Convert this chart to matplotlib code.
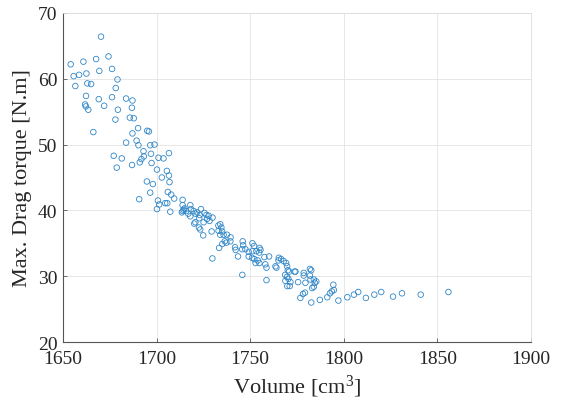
import matplotlib
matplotlib.use("Agg")
import matplotlib.pyplot as plt

# volume [cm^3] and max drag torque [N.m]
volume = [
    1670.3, 1654.1, 1660.9, 1667.7, 1674.3, 1655.7, 1658.6, 1662.5, 1669.4, 1676.2,
    1656.6, 1663.0, 1665.0, 1679.1, 1678.2, 1662.3, 1669.1, 1676.2, 1683.7, 1687.1,
    1661.8, 1662.2, 1663.5, 1672.0, 1679.3, 1686.8, 1685.7, 1687.8, 1678.0, 1690.1,
    1666.2, 1687.1, 1695.0, 1695.9, 1683.7, 1689.3, 1690.3, 1696.6, 1698.9, 1693.0,
    1697.0, 1706.6, 1677.1, 1681.4, 1693.2, 1691.9, 1691.0, 1701.0, 1703.7, 1678.7,
    1686.9, 1697.3, 1700.2, 1705.5, 1706.6, 1702.8, 1706.9, 1694.8, 1698.0, 1696.6,
    1706.0, 1707.8, 1709.4, 1690.7, 1700.7, 1701.4, 1704.6, 1705.7, 1700.2, 1707.3,
    1713.9, 1713.9, 1713.9, 1714.4, 1714.9, 1713.5, 1715.8, 1718.0, 1718.4, 1716.9,
    1720.8, 1719.8, 1723.7, 1723.0, 1722.8, 1718.0, 1720.1, 1722.6, 1723.3, 1725.6,
    1726.6, 1726.9, 1727.8, 1728.3, 1729.9, 1729.4, 1724.9, 1733.0, 1734.6, 1733.1,
    1735.0, 1734.0, 1735.8, 1737.6, 1739.5, 1739.4, 1736.4, 1735.1, 1737.3, 1733.4,
    1729.8, 1741.9, 1742.2, 1743.5, 1746.0, 1746.2, 1745.7, 1747.4, 1751.2, 1752.1,
    1749.2, 1751.2, 1753.3, 1754.8, 1755.5, 1749.2, 1751.0, 1752.2, 1754.0, 1752.9,
    1754.9, 1757.6, 1760.1, 1758.1, 1758.7, 1764.0, 1745.8, 1758.7, 1721.6, 1725.1,
    1720.7, 1734.0, 1755.0, 1763.5,
    1765.3, 1766.5, 1765.1, 1767.9, 1769.2, 1769.7, 1770.1, 1770.8, 1768.7, 1769.7,
    1770.4, 1768.8, 1771.5, 1771.1, 1773.7, 1775.6, 1778.6, 1778.6, 1779.5, 1781.9,
    1782.6, 1781.9, 1782.2, 1784.0, 1784.5, 1784.0, 1785.3, 1776.8, 1778.2, 1779.3,
    1782.6, 1787.2, 1791.2, 1792.6, 1793.6, 1794.7, 1794.4, 1797.1, 1801.9, 1805.4,
    1807.7, 1811.8, 1816.3, 1820.0, 1826.3, 1831.1, 1841.1, 1855.9, 1774.2, 1769.8,
    1783.1,
]
torque = [
    66.4, 62.2, 62.6, 63.0, 63.4, 60.4, 60.6, 60.8, 61.2, 61.5,
    58.9, 59.3, 59.2, 59.9, 58.6, 57.4, 56.9, 57.2, 57.0, 56.7,
    56.1, 55.8, 55.3, 55.9, 55.3, 55.6, 54.1, 54.0, 53.8, 52.5,
    51.9, 51.7, 52.1, 52.0, 50.3, 50.6, 49.9, 49.9, 50.0, 49.0,
    48.6, 48.7, 48.3, 47.9, 48.2, 47.8, 47.3, 48.0, 47.9, 46.5,
    46.9, 47.2, 46.2, 46.0, 45.3, 45.0, 44.3, 44.4, 44.0, 42.7,
    42.8, 42.4, 41.8, 41.7, 41.5, 40.9, 41.1, 41.1, 40.2, 39.8,
    41.6, 40.8, 39.9, 40.1, 40.3, 39.7, 39.9, 40.8, 40.2, 39.5,
    39.5, 39.9, 40.2, 39.3, 38.8, 39.1, 38.0, 37.4, 37.1, 39.6,
    39.3, 38.7, 39.2, 38.4, 38.9, 36.8, 36.2, 37.7, 37.4, 36.9,
    36.8, 36.3, 36.3, 36.3, 35.9, 35.3, 35.3, 34.9, 35.1, 34.3,
    32.7, 34.4, 34.0, 33.0, 35.3, 34.7, 34.1, 34.1, 35.0, 34.6,
    33.7, 33.8, 33.8, 33.6, 34.0, 33.0, 32.8, 32.6, 32.4, 32.0,
    32.0, 32.9, 33.0, 31.8, 31.3, 31.3, 30.2, 29.4, 39.7, 38.2,
    38.2, 37.9, 34.3, 31.5,
    32.8, 32.6, 32.4, 32.3, 32.0, 31.5, 30.9, 30.7, 30.2, 29.9,
    29.6, 29.3, 29.1, 28.5, 30.7, 29.1, 30.5, 30.1, 29.0, 31.1,
    30.9, 30.1, 29.5, 29.5, 29.0, 28.4, 29.2, 26.7, 27.3, 27.5,
    26.0, 26.4, 26.8, 27.4, 27.7, 27.9, 28.7, 26.3, 26.8, 27.2,
    27.6, 26.7, 27.2, 27.6, 26.9, 27.4, 27.2, 27.6, 30.7, 28.5,
    28.2,
]

x_ticks = [1650, 1700, 1750, 1800, 1850, 1900]
y_ticks = [20, 30, 40, 50, 60, 70]

plt.rcParams['font.family'] = ['Liberation Serif', 'DejaVu Serif']
plt.rcParams['mathtext.default'] = 'regular'

fig = plt.figure(figsize=(5.61, 4.10), dpi=100)
ax = fig.add_axes([0.1123, 0.1634, 0.8342, 0.8025])

ax.scatter(volume, torque, s=16, facecolors='none', edgecolors='#2F86C8',
           linewidths=0.6, zorder=3)

ax.set_xlim(1650, 1900)
ax.set_ylim(20, 70)
ax.set_xticks(x_ticks)
ax.set_yticks(y_ticks)
ax.grid(True, color='#E3E3E3', linewidth=0.6)
ax.set_axisbelow(True)

for side in ['top', 'right']:
    ax.spines[side].set_color('#DDDDDD')
    ax.spines[side].set_linewidth(0.6)
for side in ['left', 'bottom']:
    ax.spines[side].set_color('#555555')
    ax.spines[side].set_linewidth(0.8)

ax.tick_params(direction='in', length=3, width=0.6, color='#555555',
               labelsize=14, labelcolor='#262626', top=False, right=False)
ax.tick_params(axis='x', pad=6)
ax.tick_params(axis='y', pad=4)

ax.set_xlabel('Volume [cm$^3$]', fontsize=16, color='#262626', labelpad=4)
ax.set_ylabel('Max. Drag torque [N.m]', fontsize=16, color='#262626', labelpad=4)

fig.savefig('out.png', dpi=100)
